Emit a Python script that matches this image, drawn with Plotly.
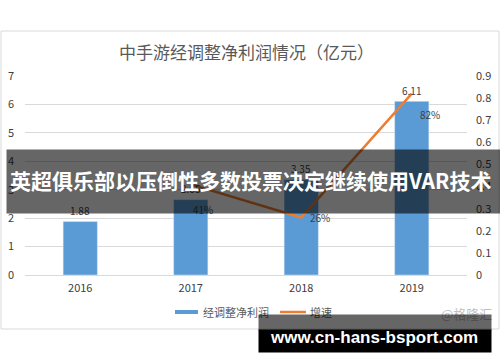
import plotly.graph_objects as go

# ---- data ----
years = ["2016", "2017", "2018", "2019"]
profit = [1.88, 2.65, 3.35, 6.11]          # 经调整净利润 (亿元)
growth_years = ["2017", "2018", "2019"]
growth = [0.41, 0.26, 0.82]                 # 增速
left_ticks = [0, 1, 2, 3, 4, 5, 6, 7]
right_ticks = [0, 0.1, 0.2, 0.3, 0.4, 0.5, 0.6, 0.7, 0.8, 0.9]

title_text = "中手游经调整净利润情况（亿元）"
legend_names = ["经调整净利润", "增速"]
banner_text = "英超俱乐部以压倒性多数投票决定继续使用VAR技术"
site_text = "www.cn-hans-bsport.com"
mark_text = "@格隆汇"

W, H = 500, 362
def X(p): return p / W
def Y(p): return 1 - p / H

CJK = "Noto Sans CJK SC"
BLUE = "#5B9BD5"
ORANGE = "#ED7D31"
GRID = "#D9D9D9"
TXT = "#404040"

fig = go.Figure()
fig.add_trace(go.Bar(x=years, y=profit, marker_color=BLUE, width=0.31,
                     name=legend_names[0], showlegend=False))
fig.add_trace(go.Scatter(x=growth_years, y=growth, yaxis="y2", mode="lines",
                         line=dict(color=ORANGE, width=2.5),
                         name=legend_names[1], showlegend=False))

ann = []
# title
ann.append(dict(text=title_text, xref="paper", yref="paper", x=X(246), y=Y(51),
                xanchor="center", yanchor="middle",
                showarrow=False, font=dict(family=CJK, size=17, color="#595959")))
# bar value labels
for i, v in enumerate(profit):
    ann.append(dict(text=f"{v:.2f}", xref="x", yref="y", x=i, y=v, yshift=11,
                    xanchor="center", yanchor="middle",
                    showarrow=False, font=dict(family=CJK, size=10, color=TXT)))
# growth labels
shifts = [(12, -25), (19, 0), (18, -21)]
for (yr, g), (dx, dy) in zip(zip(growth_years, growth), shifts):
    ann.append(dict(text=f"{round(g*100)}%", xref="x", yref="y2", x=years.index(yr), y=g,
                    xshift=dx, yshift=dy, showarrow=False,
                    xanchor="center", yanchor="middle",
                    font=dict(family=CJK, size=10, color=TXT)))
# legend texts
ann.append(dict(text=legend_names[0], xref="paper", yref="paper", x=X(201), y=Y(312),
                xanchor="left", yanchor="middle", showarrow=False,
                font=dict(family=CJK, size=11, color="#595959")))
ann.append(dict(text=legend_names[1], xref="paper", yref="paper", x=X(308), y=Y(312),
                xanchor="left", yanchor="middle", showarrow=False,
                font=dict(family=CJK, size=11, color="#595959")))
# watermark
ann.append(dict(text=mark_text, xref="paper", yref="paper", x=X(466), y=Y(313),
                xanchor="center", yanchor="middle",
                showarrow=False, font=dict(family=CJK, size=13, color="#BFBFBF")))
# banner background + text
ann.append(dict(text=" ", xref="paper", yref="paper",
                x=X(253.5), y=Y(181.5), xanchor="center", yanchor="middle",
                width=493, height=63, bgcolor="rgba(0,0,0,0.6)", borderpad=0,
                showarrow=False, font=dict(size=1)))
ann.append(dict(text="<b>" + banner_text + "</b>", xref="paper", yref="paper",
                x=X(250), y=Y(180), xanchor="center", yanchor="middle",
                showarrow=False, font=dict(family=CJK, size=21, color="white")))
# bottom boxes
ann.append(dict(text=" ", xref="paper", yref="paper", x=X(375), y=Y(322.5),
                xanchor="center", yanchor="middle", width=232, height=15,
                bgcolor="rgba(0,0,0,0.6)", borderpad=0, showarrow=False,
                font=dict(size=1)))
ann.append(dict(text=" ", xref="paper", yref="paper", x=X(375), y=Y(341),
                xanchor="center", yanchor="middle", width=232, height=22,
                bgcolor="black", borderpad=0, showarrow=False, font=dict(size=1)))
ann.append(dict(text="<b>" + site_text + "</b>", xref="paper", yref="paper",
                x=X(374), y=Y(337.5), xanchor="center", yanchor="middle",
                showarrow=False, font=dict(family="Liberation Sans", size=17, color="white")))

shapes = [
    dict(type="rect", xref="paper", yref="paper", x0=X(1), x1=X(499), y0=Y(31), y1=Y(329),
         line=dict(color=GRID, width=1), fillcolor="rgba(0,0,0,0)", layer="below"),
    dict(type="rect", xref="paper", yref="paper", x0=X(175), x1=X(198), y0=Y(314), y1=Y(310),
         line=dict(width=0), fillcolor=BLUE),
    dict(type="line", xref="paper", yref="paper", x0=X(280), x1=X(306), y0=Y(312), y1=Y(312),
         line=dict(color=ORANGE, width=2.5)),
]

fig.update_layout(
    width=W, height=H, margin=dict(l=0, r=0, t=0, b=0),
    paper_bgcolor="white", plot_bgcolor="white",
    font=dict(family=CJK, color=TXT, size=11),
    showlegend=False, bargap=0.69,
    annotations=ann, shapes=shapes,
    xaxis=dict(domain=[X(25), X(467)], type="category", categoryorder="array",
               categoryarray=years, range=[-0.5, 3.5], showline=True, linecolor=GRID,
               linewidth=1, ticks="", ticklabelstandoff=3, automargin=False,
               tickfont=dict(size=11, color=TXT)),
    yaxis=dict(domain=[Y(275), Y(76)], range=[0, 7], tickvals=left_ticks,
               showgrid=True, gridcolor=GRID, gridwidth=1, zeroline=False,
               ticks="", ticklabelstandoff=10, automargin=False,
               tickfont=dict(size=11, color=TXT)),
    yaxis2=dict(overlaying="y", side="right", range=[0, 0.9], tickvals=right_ticks,
                showgrid=False, zeroline=False, ticks="", ticklabelstandoff=8,
                automargin=False, tickfont=dict(size=11, color=TXT)),
)

fig.write_html("out.html")
